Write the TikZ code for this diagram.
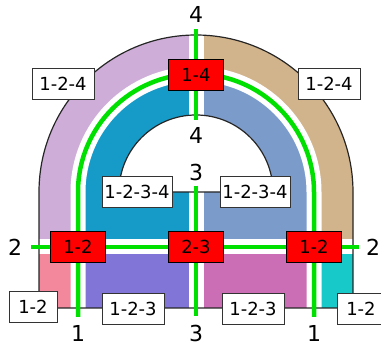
\documentclass[tikz,border=0pt]{standalone}
\usepackage{fontspec}
\setmainfont{DejaVu Sans}
\usepackage{xcolor}
\usepackage{tikz}
\usetikzlibrary{positioning}

\begin{document}
\begin{tikzpicture}[x=1pt, y=1pt, node distance=118pt]
		\definecolor{lilac}{RGB}{206,173,216}
		\definecolor{sand}{RGB}{210,180,140}
		\definecolor{ocean}{RGB}{22,155,200}
		\definecolor{steel}{RGB}{123,156,203}
		\definecolor{rose}{RGB}{243,135,155}
		\definecolor{iris}{RGB}{129,118,216}
		\definecolor{mauve}{RGB}{204,110,182}
		\definecolor{lagoon}{RGB}{23,201,201}
		\definecolor{routegreen}{RGB}{0,224,0}
		\tikzstyle{gap} = [draw=white, line width=15pt]
		\tikzstyle{border} = [draw=black!85, line width=1.2pt]
		\tikzstyle{route} = [draw=routegreen, line width=4.5pt, shorten <=7pt, shorten >=7pt]
		\tikzstyle{crossing} = [rectangle, minimum width=55pt, minimum height=31pt, text centered, draw=black, fill=red, font=\fontsize{18}{20}\selectfont]
		\tikzstyle{tag} = [rectangle, minimum width=62pt, minimum height=31pt, inner xsep=2.5pt, text centered, draw=black!80, fill=white, font=\fontsize{18}{20}\selectfont]
		\tikzstyle{ends} = [inner sep=0pt, font=\fontsize{22}{24}\selectfont]
		
		\useasboundingbox (0,0) rectangle (381,345);
		
		% faces
		\fill [lilac] (39,98) -- (39,153) arc[start angle=180, end angle=90, radius=157] -- (196,271) arc[start angle=90, end angle=180, radius=118] -- (78,98) -- cycle;
		\fill [sand] (353,98) -- (353,153) arc[start angle=0, end angle=90, radius=157] -- (196,271) arc[start angle=90, end angle=0, radius=118] -- (314,98) -- cycle;
		\fill [ocean] (78,98) -- (78,153) arc[start angle=180, end angle=90, radius=118] -- (196,230) arc[start angle=90, end angle=180, radius=77] -- (196,153) -- (196,98) -- cycle;
		\fill [steel] (314,98) -- (314,153) arc[start angle=0, end angle=90, radius=118] -- (196,230) arc[start angle=90, end angle=0, radius=77] -- (196,153) -- (196,98) -- cycle;
		\fill [rose] (39,37) rectangle (78,98);
		\fill [iris] (78,37) rectangle (196,98);
		\fill [mauve] (196,37) rectangle (314,98);
		\fill [lagoon] (314,37) rectangle (353,98);
		
		% gaps along the routes
		\draw [gap] (78,37) -- (78,153) arc[start angle=180, end angle=0, radius=118] -- (314,37);
		\draw [gap] (39,98) -- (353,98);
		\draw [gap] (196,37) -- (196,310);
		
		% outlines
		\draw [border] (39,37) -- (39,153) arc[start angle=180, end angle=0, radius=157] -- (353,37) -- cycle;
		\draw [border] (119,153) arc[start angle=180, end angle=0, radius=77] -- cycle;
		
		\node (c23) [crossing] at (196,98) {2-3};
		\node (c12w) [crossing, left of=c23] {1-2};
		\node (c12e) [crossing, right of=c23] {1-2};
		\node (c14) [crossing, above of=c23, yshift=54pt] {1-4};
		
		\node (e2w) [ends, left of=c12w, xshift=55pt] {2};
		\node (e2e) [ends, right of=c12e, xshift=-59pt] {2};
		\node (e4n) [ends, above of=c14, yshift=-57pt] {4};
		\node (e4s) [ends, below of=c14, yshift=58pt] {4};
		\node (e3n) [ends, above of=c23, yshift=-43pt] {3};
		\node (e3s) [ends, below of=c23, yshift=32pt] {3};
		\node (e1w) [ends, below of=c12w, yshift=32pt] {1};
		\node (e1e) [ends, below of=c12e, yshift=32pt] {1};
		\coordinate (u1w) at (78,153);
		\coordinate (u1e) at (314,153);
		
		\draw [route, shorten <=8pt, shorten >=8pt] (e1w) -- (u1w) arc[start angle=180, end angle=0, radius=118] -- (e1e);
		\draw [route, shorten <=9pt] (e2w) -- (e2e);
		\draw [route, shorten <=5pt, shorten >=8pt] (e3n) -- (e3s);
		\draw [route] (e4n) -- (e4s);
		
		% redraw the crossings on top of the routes
		\node [crossing] at (c23) {2-3};
		\node [crossing] at (c12w) {1-2};
		\node [crossing] at (c12e) {1-2};
		\node [crossing] at (c14) {1-4};
		
		\node (t124w) [tag] at (63,261) {1-2-4};
		\node (t124e) [tag] at (329,261) {1-2-4};
		\node (t1234w) [tag] at (137,153) {1-2-3-4};
		\node (t1234e) [tag] at (255,153) {1-2-3-4};
		\node (t12w) [tag, minimum width=48pt] at (33,38) {1-2};
		\node (t123w) [tag] at (133,36) {1-2-3};
		\node (t123e) [tag] at (253,36) {1-2-3};
		\node (t12e) [tag, minimum width=48pt] at (361,36) {1-2};
	\end{tikzpicture}
\end{document}
